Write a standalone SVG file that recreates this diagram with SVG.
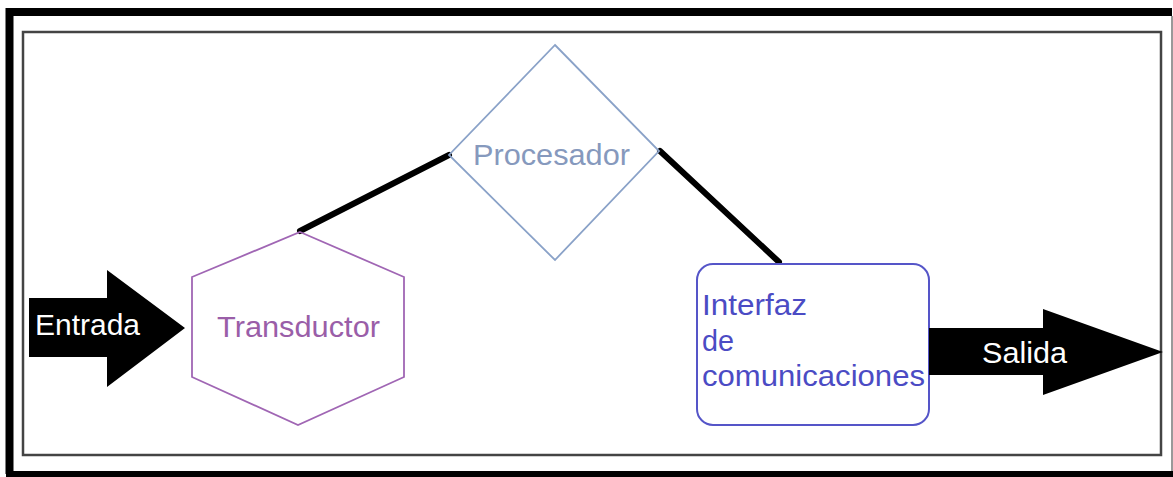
<svg xmlns="http://www.w3.org/2000/svg" width="1173" height="477" viewBox="0 0 1173 477">
<style>
text{font-family:"Liberation Sans",Arial,sans-serif;font-size:29px}
.conn{stroke:#000;stroke-width:6;stroke-linecap:round;fill:none}
.arrow{fill:#000}
.wt{fill:#fff}
</style>
<rect width="1173" height="477" fill="#fff"/>
<g id="frame">
<path d="M9.5,474 L9.5,12 L1172,12" fill="none" stroke="#000" stroke-width="8"/>
<rect x="6" y="471" width="1167" height="6" fill="#000"/>
<line x1="1172" y1="16" x2="1172" y2="471" stroke="#777" stroke-width="1.5"/>
<rect x="23" y="32" width="1138" height="423" fill="none" stroke="#444" stroke-width="2.5"/>
</g>
<g id="connectors">
<line class="conn" x1="300" y1="231" x2="449" y2="155"/>
<line class="conn" x1="660" y1="151" x2="779" y2="262"/>
</g>
<g id="entrada">
<polygon class="arrow" points="29,298 107,298 107,270 185,328 107,387 107,357 29,357"/>
<text class="wt" x="35" y="335" textLength="105" lengthAdjust="spacingAndGlyphs">Entrada</text>
</g>
<g id="transductor">
<polygon points="300,232 404,277 404,377 298,425 192,377 192,277" fill="none" stroke="#a066b4" stroke-width="1.8"/>
<text x="217" y="337" fill="#9a5ea8" textLength="163" lengthAdjust="spacingAndGlyphs">Transductor</text>
</g>
<g id="procesador">
<polygon points="555,45 659,151 555,260 449,155" fill="none" stroke="#8aa2c8" stroke-width="1.8"/>
<text x="473" y="165" fill="#8699bd" textLength="157" lengthAdjust="spacingAndGlyphs">Procesador</text>
</g>
<g id="interfaz">
<rect x="697" y="264" width="232" height="161" rx="16" fill="#fff" stroke="#5555c8" stroke-width="2"/>
<text x="702" y="315" fill="#4b4bc4" textLength="105" lengthAdjust="spacingAndGlyphs">Interfaz</text>
<text x="702" y="351" fill="#4b4bc4" textLength="32" lengthAdjust="spacingAndGlyphs">de</text>
<text x="702" y="386" fill="#4b4bc4" textLength="223" lengthAdjust="spacingAndGlyphs">comunicaciones</text>
</g>
<g id="salida">
<polygon class="arrow" points="929,328 1043,328 1043,309 1163,352 1043,395 1043,375 929,375"/>
<text class="wt" x="982" y="363" textLength="85" lengthAdjust="spacingAndGlyphs">Salida</text>
</g>
</svg>
